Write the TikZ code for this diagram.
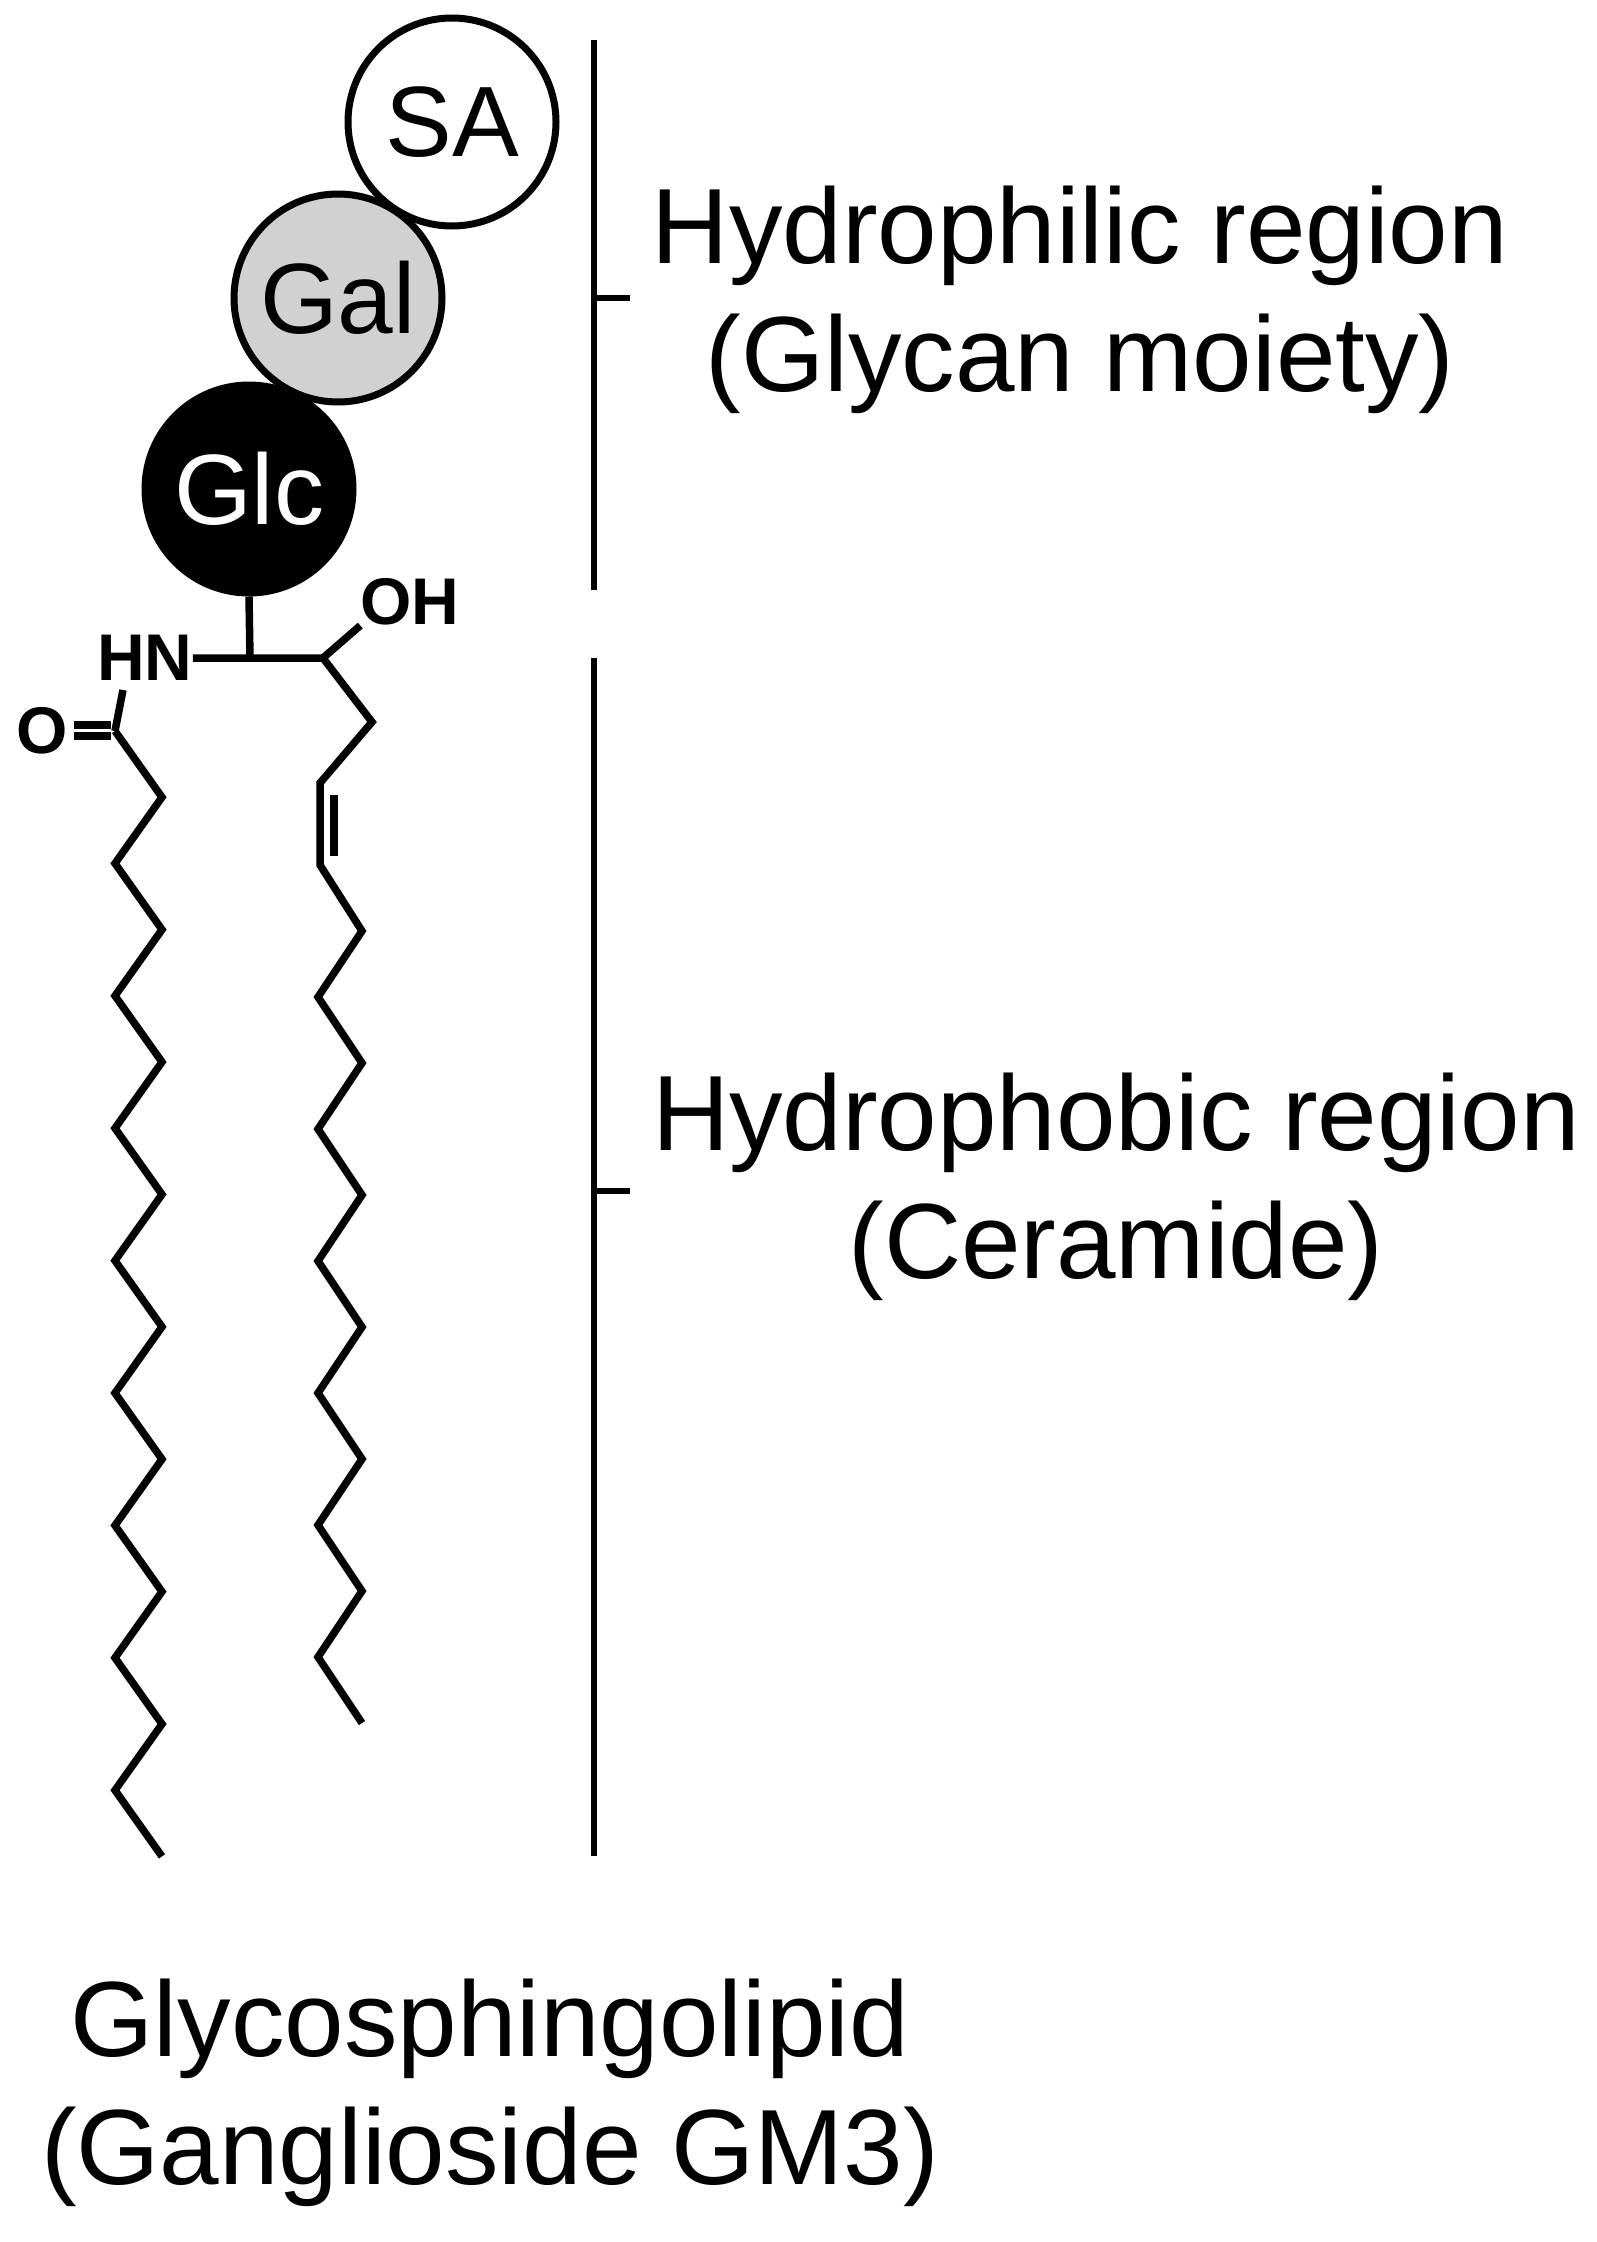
\documentclass[tikz,border=0pt]{standalone}
\usepackage{fontspec}
\setmainfont{Liberation Sans}
\begin{document}
\begin{tikzpicture}[x=1pt,y=-1pt,
  sugar/.style={circle,draw=black,line width=7pt,minimum size=208pt,inner sep=0pt,font=\fontsize{100}{110}\selectfont},
  bond/.style={line width=7.5pt,line join=miter},
  atom/.style={font=\bfseries\fontsize{66}{70}\selectfont,inner sep=0pt},
  bar/.style={line width=6pt},
  lab/.style={font=\fontsize{107}{128}\selectfont,align=center,inner sep=0pt}]
\useasboundingbox (0,0) rectangle (1596,2242);
\node[sugar,fill=white] (sa) at (452,122) {SA};
\node[sugar,fill=black!18] (gal) at (338,298) {Gal};
\node[sugar,fill=black,text=white] (glc) at (249,489) {Glc};
% ceramide core
\coordinate (c2) at (250,658);
\coordinate (c3) at (323,658);
\node[atom] (hn) at (145,658) {HN};
\node[atom] (oh) at (410,602) {OH};
\node[atom] (o) at (42,731) {O};
\coordinate (c1) at (115,731);
\draw[bond] (glc.south) -- (c2);
\draw[bond] (hn.east) -- (c2) -- (c3) -- (oh.south west);
\draw[bond] (123,690) -- (c1);
\draw[bond] ([yshift=-5pt]o.east) ++(6,0) -- ++(37,0);
\draw[bond] ([yshift=6pt]o.east) ++(6,0) -- ++(37,0);
% fatty acid chain
\draw[bond] (c1)
  \foreach \i in {1,...,17}{ -- ({ifthenelse(mod(\i,2)==1,162,115)},{731+\i*66.2}) };
% sphingosine chain
\draw[bond] (c3) -- (372,722) -- (320,783) -- (320,865)
  \foreach \i in {1,...,13}{ -- ({ifthenelse(mod(\i,2)==1,362,318)},{865+\i*66.0}) };
\draw[bond] (334,795) -- (334,856);
% region bars
\draw[bar] (594,40) -- (594,590);
\draw[bar] (594,298) -- (630,298);
\draw[bar] (594,658) -- (594,1856);
\draw[bar] (594,1191) -- (630,1191);
\node[lab] (t1) at (1080,300) {Hydrophilic region\\(Glycan moiety)};
\node[lab] (t2) at (1116,1187) {Hydrophobic region\\(Ceramide)};
\node[lab] (t3) at (490,2093) {Glycosphingolipid\\(Ganglioside GM3)};
\end{tikzpicture}
\end{document}
